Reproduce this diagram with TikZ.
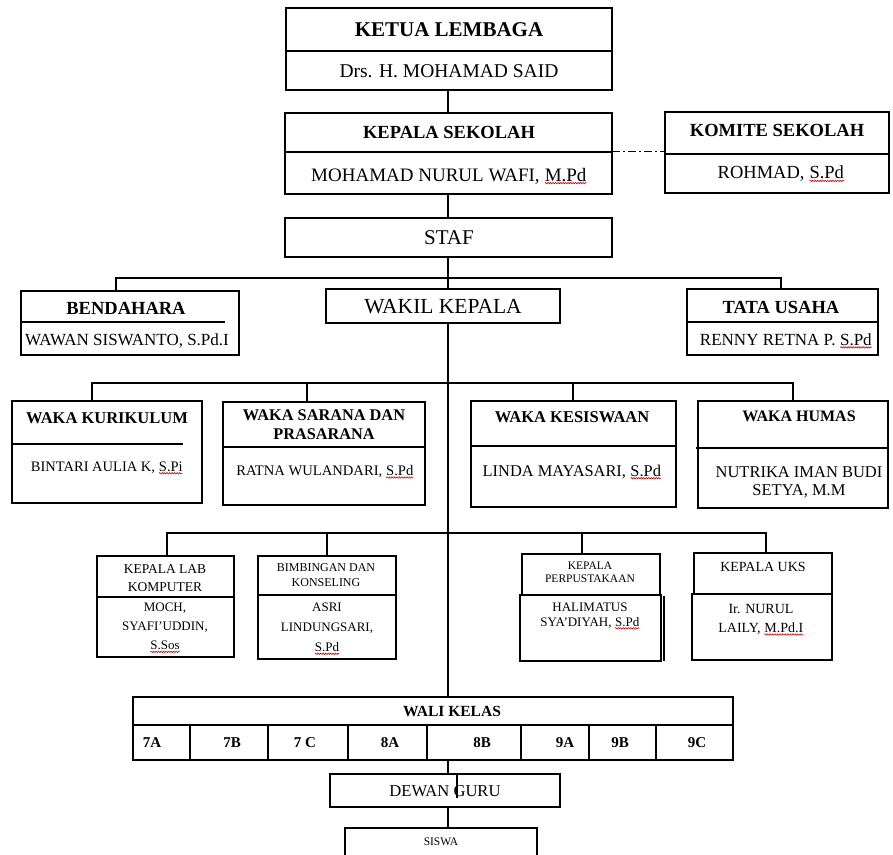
\documentclass[tikz,border=0pt]{standalone}
\usepackage{fontspec}
\setmainfont{Liberation Serif}
\usetikzlibrary{calc,decorations.pathmorphing}
\newcommand\fs[2]{\fontsize{#1}{#2}\selectfont}
\newcommand\sq[1]{\begin{tikzpicture}[baseline=(w.base),x=1pt,y=1pt]\node[inner sep=0pt,outer sep=0pt,text=black] (w) {#1};\draw[red!80!black,line width=0.6pt,decorate,decoration={snake,amplitude=0.7pt,segment length=2.5pt}] ([yshift=-2pt]w.base west) -- ([yshift=-2pt]w.base east);\end{tikzpicture}}
\newcommand\rbox[5]{\node[bx, minimum width={(#4-#2)*1pt}, minimum height={(#5-#3)*1pt}] (#1) at ({(#2+#4)/2},{(#3+#5)/2}) {};}
\tikzset{
  bx/.style={draw, line width=1.8pt, inner sep=0pt, outer sep=0pt},
  tx/.style={inner sep=0pt, align=center, text=black},
  ln/.style={line width=1.8pt},
  dd/.style={line width=1.2pt, dash pattern=on 8pt off 3pt on 2pt off 3pt},
}
\begin{document}
\begin{tikzpicture}[x=1pt, y=-1pt]
\useasboundingbox[fill=white] (0,0) rectangle (893,854);
\clip (0,0) rectangle (893,854);
\coordinate (sx) at (448,0);
% Ketua lembaga
\rbox{ketua}{286}{8}{612}{90}
\draw[ln] (286,51) -- (612,51);
\node[tx, font=\fs{21}{24}\bfseries] (t1) at (449,30) {KETUA LEMBAGA};
\node[tx, font=\fs{19.5}{22}] (t2) at (449,71) {Drs. H. MOHAMAD SAID};
% Kepala sekolah
\rbox{kepsek}{285}{113}{612}{194}
\draw[ln] (285,152) -- (612,152);
\node[tx, font=\fs{18.5}{21}\bfseries] (t3) at (449,132) {KEPALA SEKOLAH};
\node[tx, font=\fs{19}{22}] (t4) at (449,176) {MOHAMAD NURUL WAFI, \sq{M.Pd}};
% Komite
\rbox{komite}{665}{112}{889}{193}
\draw[ln] (665,154) -- (889,154);
\node[tx, font=\fs{18.5}{21}\bfseries] (t5) at (777,130) {KOMITE SEKOLAH};
\node[tx, font=\fs{18.5}{21}] (t6) at (781,174) {ROHMAD, \sq{S.Pd}};
\draw[dd] (kepsek.east) ++(0,-2) coordinate (kd) (kd) -- (kd -| komite.west);
% Staf
\rbox{staf}{285}{218}{612}{257}
\node[tx, font=\fs{21}{24}] (t7) at (449,238) {STAF};
\draw[ln] (ketua.south -| sx) -- (kepsek.north -| sx);
\draw[ln] (kepsek.south -| sx) -- (staf.north -| sx);
% Level 1
\coordinate (b1l) at (116,278);
\coordinate (b1r) at (781,278);
\rbox{bend}{21}{291}{239}{355}
\draw[ln] (21,322) -- (225,322);
\node[tx, font=\fs{18.5}{21}\bfseries] (t8) at (126,308) {BENDAHARA};
\node[tx, font=\fs{17}{20}] (t9) at (127,341) {WAWAN SISWANTO, S.Pd.I};
\rbox{wakil}{326}{289}{560}{323}
\node[tx, font=\fs{21.5}{24}] (t10) at (443,307) {WAKIL KEPALA};
\rbox{tu}{687}{289}{878}{355}
\draw[ln] (687,322) -- (878,322);
\node[tx, font=\fs{18.5}{21}\bfseries] (t11) at (781,307) {TATA USAHA};
\node[tx, font=\fs{17}{20}] (t12) at (786,341) {RENNY RETNA P. \sq{S.Pd}};
\draw[ln] (staf.south -| sx) -- (wakil.north -| sx);
\draw[ln] (b1l |- bend.north) -- (b1l) -- (b1r) -- (b1r |- tu.north);
% Level 2
\coordinate (b2l) at (92,383);
\coordinate (b2a) at (307,383);
\coordinate (b2b) at (573,383);
\coordinate (b2r) at (793,383);
\rbox{kur}{12}{401}{202}{503}
\draw[ln] (12,444) -- (183,444);
\node[tx, font=\fs{16.5}{19}\bfseries] (t13) at (107,418) {WAKA KURIKULUM};
\node[tx, font=\fs{14.5}{17}] (t14) at (107,468) {BINTARI AULIA K, \sq{S.Pi}};
\rbox{sar}{223}{402}{425}{505}
\draw[ln] (223,447) -- (425,447);
\node[tx, font=\fs{16.3}{19}\bfseries] (t15) at (324,425) {WAKA SARANA DAN\\PRASARANA};
\node[tx, font=\fs{14.6}{17}] (t16) at (325,472) {RATNA WULANDARI, \sq{S.Pd}};
\rbox{kes}{471}{401}{676}{507}
\draw[ln] (471,446) -- (676,446);
\node[tx, font=\fs{16.5}{19}\bfseries] (t17) at (572,417) {WAKA KESISWAAN};
\node[tx, font=\fs{16.4}{19}] (t18) at (572,472) {LINDA MAYASARI, \sq{S.Pd}};
\rbox{hum}{698}{401}{888}{508}
\draw[ln] (696,448) -- (888,448);
\node[tx, font=\fs{16}{19}\bfseries] (t19) at (799,416) {WAKA HUMAS};
\node[tx, font=\fs{16.5}{18}] (t20) at (799,482) {NUTRIKA IMAN BUDI\\SETYA, M.M};
\draw[ln] (b2l |- kur.north) -- (b2l) -- (b2r) -- (b2r |- hum.north);
\draw[ln] (b2a) -- (b2a |- sar.north);
\draw[ln] (b2b) -- (b2b |- kes.north);
% Level 3
\coordinate (b3l) at (167,533);
\coordinate (b3a) at (327,533);
\coordinate (b3b) at (582,533);
\coordinate (b3r) at (766,533);
\rbox{lab}{97}{556}{234}{657}
\draw[ln] (97,597) -- (234,597);
\node[tx, font=\fs{13.5}{18}] (t21) at (165,578) {KEPALA LAB\\KOMPUTER};
\node[tx, font=\fs{13}{19}] (t22) at (165,628) {MOCH,\\SYAFI’UDDIN,\\\sq{S.Sos}};
\rbox{bk}{258}{556}{396}{659}
\draw[ln] (258,595) -- (396,595);
\node[tx, font=\fs{12}{15}] (t23) at (326,575) {BIMBINGAN DAN\\KONSELING};
\node[tx, font=\fs{13}{20}] (t24) at (327,629) {ASRI\\LINDUNGSARI,\\\sq{S.Pd}};
\rbox{perp}{522}{554}{660}{595}
\rbox{perpb}{520}{595}{661}{661}
\draw[ln] (664,596) -- (664,661);
\node[tx, font=\fs{11.5}{13}] (t25) at (590,572) {KEPALA\\PERPUSTAKAAN};
\node[tx, font=\fs{13}{15}] (t26) at (590,616) {HALIMATUS\\SYA’DIYAH, \sq{S.Pd}};
\rbox{uks}{694}{553}{832}{594}
\rbox{uksb}{692}{594}{832}{660}
\node[tx, font=\fs{14}{17}] (t27) at (763,567) {KEPALA UKS};
\node[tx, font=\fs{14}{19}] (t28) at (761,620) {Ir. NURUL\\LAILY, \sq{M.Pd.I}};
\draw[ln] (b3l |- lab.north) -- (b3l) -- (b3r) -- (b3r |- uks.north);
\draw[ln] (b3a) -- (b3a |- bk.north);
\draw[ln] (b3b) -- (b3b |- perp.north);
% Wali kelas
\rbox{wali}{133}{697}{733}{760}
\draw[ln] (133,725) -- (733,725);
\foreach \cx in {190,268,348,427,521,589,656} \draw[ln] (\cx,725) -- (\cx,760);
\node[tx, font=\fs{15.5}{18}\bfseries] (t29) at (452,711) {WALI KELAS};
\foreach \lab/\lx/\nm in {7A/152/c1,7B/232/c2,7 C/305/c3,8A/390/c4,8B/482/c5,9A/565/c6,9B/620/c7,9C/697/c8}
  \node[tx, font=\fs{15}{18}\bfseries] (\nm) at (\lx,743) {\lab};
\draw[ln] (wakil.south -| sx) -- (wali.north -| sx);
% Dewan guru & siswa
\rbox{dewan}{330}{774}{560}{807}
\node[tx, font=\fs{16.6}{19}] (t30) at (445,791) {DEWAN GURU};
\draw[ln] (457,774) -- (457,798);
\rbox{siswa}{345}{828}{537}{880}
\node[tx, font=\fs{11.5}{14}] (t31) at (441,842) {SISWA};
\draw[ln] (wali.south -| sx) -- (dewan.north -| sx);
\draw[ln] (dewan.south -| sx) -- (siswa.north -| sx);
\end{tikzpicture}
\end{document}
